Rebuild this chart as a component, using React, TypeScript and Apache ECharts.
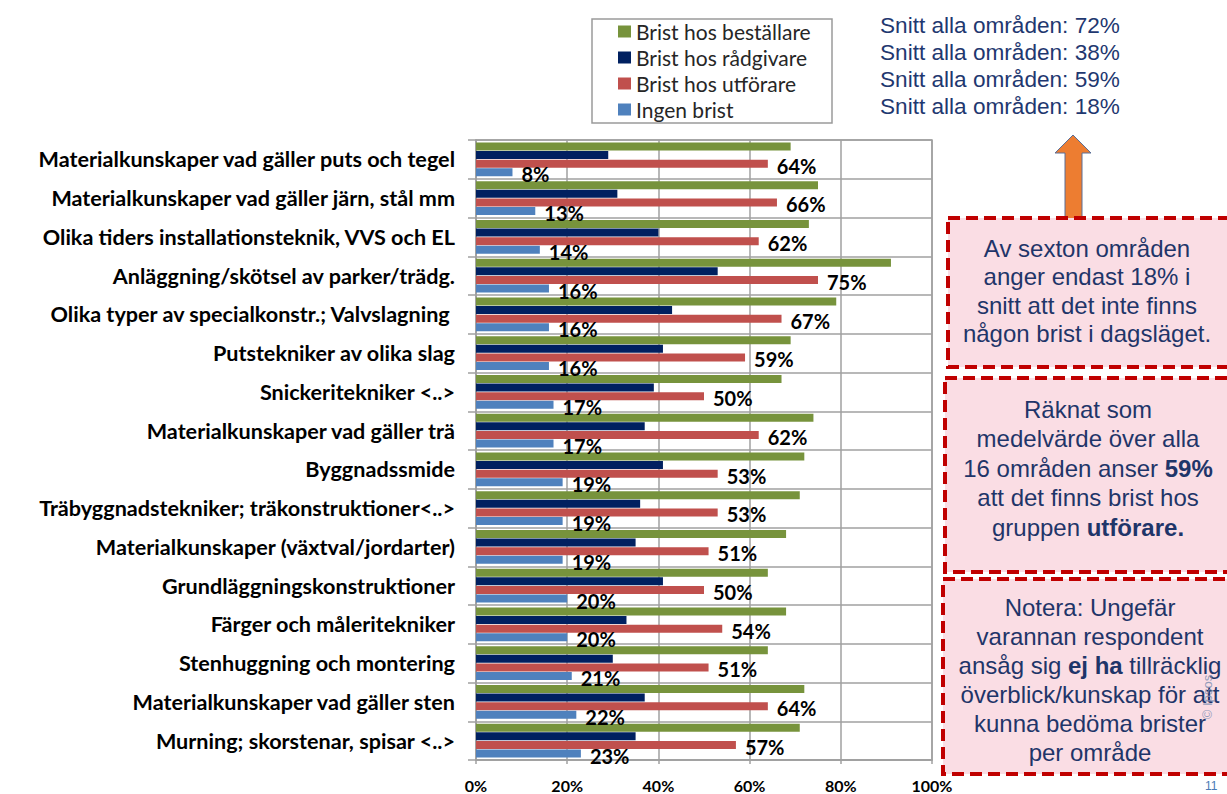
import React, { useEffect, useRef } from "react";
import * as echarts from "echarts";

const categories = [
  "Materialkunskaper vad gäller puts och tegel",
  "Materialkunskaper vad gäller järn, stål mm",
  "Olika tiders installationsteknik, VVS och EL",
  "Anläggning/skötsel av parker/trädg.",
  "Olika typer av specialkonstr.; Valvslagning ",
  "Putstekniker av olika slag",
  "Snickeritekniker <..>",
  "Materialkunskaper vad gäller trä",
  "Byggnadssmide",
  "Träbyggnadstekniker; träkonstruktioner<..>",
  "Materialkunskaper (växtval/jordarter)",
  "Grundläggningskonstruktioner",
  "Färger och måleritekniker",
  "Stenhuggning och montering",
  "Materialkunskaper vad gäller sten",
  "Murning; skorstenar, spisar <..>",
];

const seriesNames = ["Brist hos beställare", "Brist hos rådgivare", "Brist hos utförare", "Ingen brist"];
const bestallare = [69, 75, 73, 91, 79, 69, 67, 74, 72, 71, 68, 64, 68, 64, 72, 71];
const radgivare = [29, 31, 40, 53, 43, 41, 39, 37, 41, 36, 35, 41, 33, 30, 37, 35];
const utforare = [64, 66, 62, 75, 67, 59, 50, 62, 53, 53, 51, 50, 54, 51, 64, 57];
const ingenBrist = [8, 13, 14, 16, 16, 16, 17, 17, 19, 19, 19, 20, 20, 21, 22, 23];
const seriesColors = ["#77933C", "#002060", "#C0504D", "#4F81BD"];

const snittLines = [
  "Snitt alla områden: 72%",
  "Snitt alla områden: 38%",
  "Snitt alla områden: 59%",
  "Snitt alla områden: 18%",
];

const box1Lines = ["Av sexton områden", "anger endast 18% i", "snitt att det inte finns", "någon brist i dagsläget."];
const box2Lines = [
  "{n|Räknat som}",
  "{n|medelvärde över alla}",
  "{n|16 områden anser }{b|59%}",
  "{n|att det finns brist hos}",
  "{n|gruppen }{b|utförare.}",
];
const box3Lines = [
  "{n|Notera: Ungefär}",
  "{n|varannan respondent}",
  "{n|ansåg sig }{b|ej ha}{n| tillräcklig}",
  "{n|överblick/kunskap för att}",
  "{n|kunna bedöma brister}",
  "{n|per område}",
];

const ARIAL = "'Liberation Sans', Arial, sans-serif";
const CAL = "Lato, 'Open Sans', sans-serif";
const NAVYTXT = "#1f3569";
const GRID = "#a0a0a0";
const BOXFONT = 24;

function boxText(lines: string[], cx: number, y0: number, step: number) {
  return lines.map((t, i) => ({
    type: "text",
    x: cx,
    y: y0 + i * step,
    z: 10,
    style: {
      text: t,
      align: "center",
      verticalAlign: "middle",
      textAlign: "center",
      textVerticalAlign: "middle",
      rich: {
        n: { fontFamily: ARIAL, fontSize: BOXFONT, fill: NAVYTXT, color: NAVYTXT },
        b: { fontFamily: ARIAL, fontSize: BOXFONT, fontWeight: "bold", fill: NAVYTXT, color: NAVYTXT },
      },
      fontFamily: ARIAL,
      fontSize: BOXFONT,
      fill: NAVYTXT,
    },
  }));
}

export default function App() {
  const ref = useRef<HTMLDivElement>(null);
  useEffect(() => {
    document.body.style.margin = "0";
    const chart = echarts.init(ref.current!, null, { renderer: "svg" });
    const data = [bestallare, radgivare, utforare, ingenBrist];
    const label = {
      show: true,
      position: "right",
      distance: 9,
      offset: [0, 2],
      formatter: "{c}%",
      fontFamily: CAL,
      fontWeight: "bold",
      fontSize: 20,
      color: "#000",
    };
    const boxStyle = { fill: "#fadde4", stroke: "#C00000", lineWidth: 4, lineDash: [12, 6] };
    const option: any = {
      animation: false,
      backgroundColor: "#fff",
      grid: { left: 476, top: 140, width: 456, height: 620, show: true, borderColor: GRID, borderWidth: 1.5 },
      legend: {
        orient: "vertical",
        left: 618,
        top: 21,
        icon: "rect",
        itemWidth: 13,
        itemHeight: 12,
        itemGap: 5,
        padding: 0,
        data: seriesNames,
        textStyle: { fontFamily: CAL, fontSize: 21, color: "#262626" },
      },
      xAxis: {
        type: "value",
        min: 0,
        max: 100,
        interval: 20,
        axisLabel: { formatter: "{value}%", fontFamily: CAL, fontWeight: "bold", fontSize: 16, color: "#000", margin: 17 },
        axisLine: { show: true, lineStyle: { color: GRID, width: 1.5 } },
        axisTick: { show: true, length: 4, lineStyle: { color: GRID, width: 1.5 } },
        splitLine: { show: true, lineStyle: { color: GRID, width: 1.5 } },
      },
      yAxis: {
        type: "category",
        inverse: true,
        data: categories,
        axisLabel: { fontFamily: CAL, fontWeight: "bold", fontSize: 21.6, color: "#000", margin: 21 },
        axisLine: { show: true, lineStyle: { color: GRID, width: 1.5 } },
        axisTick: { show: true, length: 8, lineStyle: { color: GRID, width: 1.5 } },
        splitLine: { show: true, lineStyle: { color: GRID, width: 1.5 } },
      },
      series: seriesNames.map((name, i) => ({
        type: "bar",
        name,
        data: data[i],
        barWidth: 8,
        barGap: "8%",
        itemStyle: { color: seriesColors[i] },
        label: i >= 2 ? label : { show: false },
      })),
      graphic: [
        { type: "rect", shape: { x: 592, y: 19, width: 240, height: 104 }, style: { fill: "none", stroke: "#9a9a9a", lineWidth: 1.5 }, z: 1 },
        ...snittLines.map((t, i) => ({
          type: "text",
          x: 880,
          y: 25 + i * 27,
          style: { text: t, fontFamily: ARIAL, fontSize: 22.6, fill: "#1f3870", align: "left", verticalAlign: "middle", textAlign: "left", textVerticalAlign: "middle" },
        })),
        {
          type: "polygon",
          shape: { points: [[1073, 135], [1091, 153], [1082, 153], [1082, 220], [1065, 220], [1065, 153], [1055, 153]] },
          style: { fill: "#ED7D31", stroke: "#5a6f96", lineWidth: 1 },
          z: 2,
        },
        { type: "rect", shape: { x: 948, y: 218, width: 300, height: 149 }, style: boxStyle, z: 3 },
        { type: "rect", shape: { x: 945, y: 378, width: 300, height: 194 }, style: boxStyle, z: 3 },
        { type: "rect", shape: { x: 943, y: 579, width: 300, height: 195 }, style: boxStyle, z: 3 },
        ...boxText(box1Lines.map((l) => `{n|${l}}`), 1087, 248, 28.5),
        ...boxText(box2Lines, 1088, 409, 29.5),
        ...boxText(box3Lines, 1090, 607, 29),
        {
          type: "text",
          x: 1207,
          y: 697,
          rotation: Math.PI / 2,
          z: 11,
          style: { text: "© Ipsos", fontFamily: ARIAL, fontSize: 13, fill: "#8090b3", opacity: 0.85, align: "center", verticalAlign: "middle", textAlign: "center", textVerticalAlign: "middle" },
        },
        {
          type: "text",
          x: 1205,
          y: 780,
          style: { text: "11", fontFamily: ARIAL, fontSize: 12, fill: "#4a7ab5", align: "left", verticalAlign: "top", textAlign: "left", textVerticalAlign: "top" },
        },
      ],
    };
    chart.setOption(option);
    return () => chart.dispose();
  }, []);
  return <div ref={ref} style={{ position: "fixed", left: 0, top: 0, width: 1227, height: 794 }} />;
}
